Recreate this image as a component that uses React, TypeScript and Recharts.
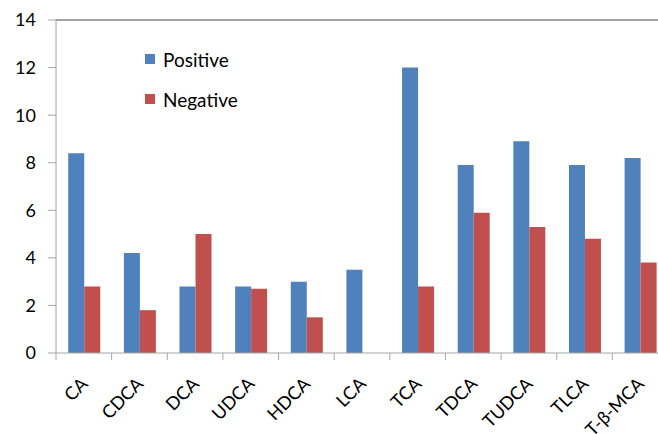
import React from 'react';
import { BarChart, Bar, XAxis, YAxis, ReferenceLine } from 'recharts';

const categories = ['CA', 'CDCA', 'DCA', 'UDCA', 'HDCA', 'LCA', 'TCA', 'TDCA', 'TUDCA', 'TLCA', 'T-β-MCA'];
const positiveValues = [8.4, 4.2, 2.8, 2.8, 3.0, 3.5, 12.0, 7.9, 8.9, 7.9, 8.2];
const negativeValues = [2.8, 1.8, 5.0, 2.7, 1.5, 0, 2.8, 5.9, 5.3, 4.8, 3.8];
const yTicks = [0, 2, 4, 6, 8, 10, 12, 14];
const seriesNames = ['Positive', 'Negative'];

const data = categories.map((name, i) => ({
  name,
  Positive: positiveValues[i],
  Negative: negativeValues[i],
}));

const BLUE = '#4F81BD';
const RED = '#C0504D';
const COLORS = [BLUE, RED];
const AXIS = '#A6A6A6';
const FONT = 'Lato, "Liberation Sans", sans-serif';

const CHART_W = 680;
const CHART_H = 434;
const PLOT_LEFT = 56;
const PLOT_RIGHT_MARGIN = 12;
const BAND = (CHART_W - PLOT_LEFT - PLOT_RIGHT_MARGIN) / categories.length;

const XTick = (props: any) => {
  const { x, y, payload } = props;
  const bx = x - BAND / 2;
  const ax = x + 5;
  const ay = y + 32;
  return (
    <g>
      <line x1={bx} y1={y} x2={bx} y2={y + 7} stroke={AXIS} strokeWidth={1} />
      <text
        x={ax}
        y={ay}
        textAnchor="end"
        transform={`rotate(-45 ${ax} ${ay})`}
        fontFamily={FONT}
        fontSize={18}
        fill="#000"
      >
        {payload.value}
      </text>
    </g>
  );
};

export default function App() {
  return (
    <div
      style={{
        position: 'absolute',
        left: 0,
        top: 0,
        width: 658,
        height: 434,
        overflow: 'hidden',
        background: '#fff',
      }}
    >
      <BarChart
        width={CHART_W}
        height={CHART_H}
        data={data}
        margin={{ top: 20, right: PLOT_RIGHT_MARGIN, bottom: 0, left: 0 }}
        barCategoryGap="22%"
        barGap={0}
      >
        <XAxis
          dataKey="name"
          height={81}
          interval={0}
          axisLine={{ stroke: AXIS }}
          tickLine={false}
          tickSize={0}
          tickMargin={0}
          tick={<XTick />}
        />
        <YAxis
          width={PLOT_LEFT}
          domain={[0, 14]}
          ticks={yTicks}
          interval={0}
          axisLine={{ stroke: AXIS }}
          tickLine={{ stroke: AXIS }}
          tickSize={8}
          tickMargin={12}
          tick={{ fontFamily: FONT, fontSize: 18, fill: '#000' }}
        />
        <ReferenceLine y={14} stroke="#868686" strokeWidth={1.5} />
        <Bar dataKey="Positive" fill={BLUE} isAnimationActive={false} />
        <Bar dataKey="Negative" fill={RED} isAnimationActive={false} />
      </BarChart>
      <div
        style={{
          position: 'absolute',
          left: 145,
          top: 47,
          fontFamily: FONT,
          fontSize: 19,
          color: '#000',
        }}
      >
        {seriesNames.map((label, i) => (
          <div
            key={label}
            style={{ display: 'flex', alignItems: 'center', height: 24, marginBottom: i === 0 ? 16 : 0 }}
          >
            <span style={{ display: 'inline-block', width: 10, height: 10, background: COLORS[i], marginRight: 8 }} />
            <span>{label}</span>
          </div>
        ))}
      </div>
    </div>
  );
}
